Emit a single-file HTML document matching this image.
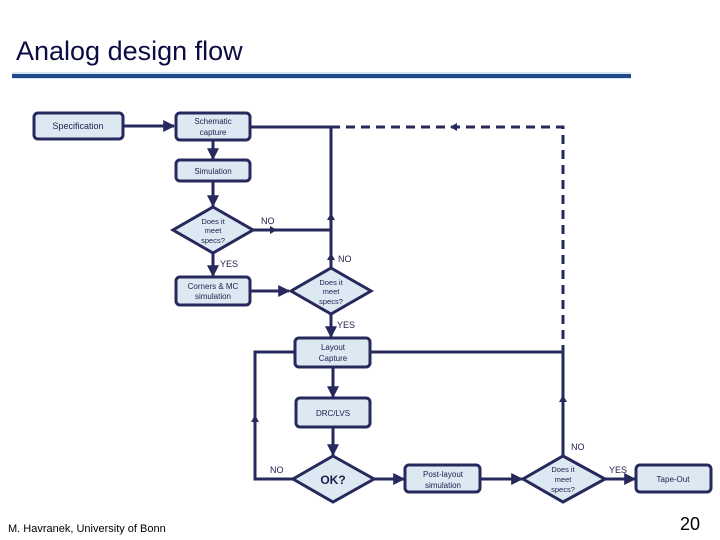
<!DOCTYPE html>
<html><head><meta charset="utf-8"><style>
body{margin:0;width:720px;height:540px;background:#fff;overflow:hidden}
svg{display:block}
</style></head><body>
<svg width="720" height="540" viewBox="0 0 720 540" font-family="Liberation Sans, sans-serif">
<defs>
<marker id="a" viewBox="0 0 10 10" refX="9" refY="5" markerWidth="4" markerHeight="4" orient="auto"><path d="M0,0L10,5L0,10z" fill="#27285c"/></marker>
</defs>
<text x="16" y="60" font-size="27" fill="#0b0b45">Analog design flow</text>
<rect x="12" y="72" width="619" height="7" fill="#d6e4f0"/>
<rect x="12" y="74" width="619" height="4" fill="#1f4a8a"/>
<g stroke="#27285c" stroke-width="3" fill="none">
<!-- solid lines -->
<line x1="123" y1="126" x2="174" y2="126" marker-end="url(#a)"/>
<line x1="213" y1="140" x2="213" y2="159" marker-end="url(#a)"/>
<line x1="213" y1="181" x2="213" y2="206" marker-end="url(#a)"/>
<line x1="213" y1="253" x2="213" y2="276" marker-end="url(#a)"/>
<line x1="250" y1="291" x2="289" y2="291" marker-end="url(#a)"/>
<line x1="253" y1="230" x2="331" y2="230"/>
<line x1="331" y1="268" x2="331" y2="127"/>
<line x1="250" y1="127" x2="331" y2="127"/>
<line x1="331" y1="314" x2="331" y2="337" marker-end="url(#a)"/>
<line x1="333" y1="367" x2="333" y2="397" marker-end="url(#a)"/>
<line x1="333" y1="427" x2="333" y2="455" marker-end="url(#a)"/>
<polyline points="293,479 255,479 255,352 295,352"/>
<line x1="370" y1="352" x2="563" y2="352"/>
<line x1="563" y1="456" x2="563" y2="352"/>
<line x1="374" y1="479" x2="404" y2="479" marker-end="url(#a)"/>
<line x1="480" y1="479" x2="522" y2="479" marker-end="url(#a)"/>
<line x1="605" y1="479" x2="635" y2="479" marker-end="url(#a)"/>
<!-- dashed -->
<polyline points="331,127 563,127 563,352" stroke-dasharray="9,6"/>
</g>
<g fill="#27285c">
<path d="M277,230l-7,-4v8z"/>
<path d="M331,213l-4,7h8z"/>
<path d="M331,253l-4,7h8z"/>
<path d="M450,127l7,-4v8z"/>
<path d="M563,395l-4,7h8z"/>
<path d="M255,415l-4,7h8z"/>
</g>
<g stroke="#27285c" stroke-width="3" fill="#dce9f2">
<rect x="34" y="113" width="89" height="26" rx="4"/>
<rect x="176" y="113" width="74" height="27" rx="4"/>
<rect x="176" y="160" width="74" height="21" rx="4"/>
<polygon points="213,207 253,230 213,253 173,230"/>
<rect x="176" y="277" width="74" height="28" rx="4"/>
<polygon points="331,268 371,291 331,314 291,291"/>
<rect x="295" y="338" width="75" height="29" rx="4"/>
<rect x="296" y="398" width="74" height="29" rx="4"/>
<polygon points="333,456 374,479 333,502 293,479"/>
<rect x="405" y="465" width="75" height="27" rx="4"/>
<polygon points="563,456 605,479 563,502 523,479"/>
<rect x="636" y="465" width="75" height="27" rx="4"/>
</g>
<g font-size="9" fill="#1e1e4e" text-anchor="middle">
<text x="78" y="129">Specification</text>
<text x="213" y="124" font-size="8">Schematic</text>
<text x="213" y="135" font-size="8">capture</text>
<text x="213" y="174" font-size="8">Simulation</text>
<text x="213" y="224" font-size="7.5">Does it</text>
<text x="213" y="233" font-size="7.5">meet</text>
<text x="213" y="243" font-size="7.5">specs?</text>
<text x="213" y="289" font-size="8">Corners &amp; MC</text>
<text x="213" y="299" font-size="8">simulation</text>
<text x="331" y="285" font-size="7.5">Does it</text>
<text x="331" y="294" font-size="7.5">meet</text>
<text x="331" y="304" font-size="7.5">specs?</text>
<text x="333" y="350" font-size="8">Layout</text>
<text x="333" y="361" font-size="8">Capture</text>
<text x="333" y="416" font-size="8">DRC/LVS</text>
<text x="333" y="484" font-size="12" font-weight="bold">OK?</text>
<text x="443" y="477" font-size="8">Post-layout</text>
<text x="443" y="488" font-size="8">simulation</text>
<text x="563" y="472" font-size="7.5">Does it</text>
<text x="563" y="482" font-size="7.5">meet</text>
<text x="563" y="492" font-size="7.5">specs?</text>
<text x="673" y="482" font-size="8">Tape-Out</text>
</g>
<g font-size="9" fill="#1e1e4e">
<text x="261" y="224">NO</text>
<text x="338" y="262">NO</text>
<text x="220" y="267">YES</text>
<text x="337" y="328">YES</text>
<text x="571" y="450">NO</text>
<text x="270" y="473">NO</text>
<text x="609" y="473">YES</text>
</g>
<text x="8" y="532" font-size="11" fill="#000">M. Havranek, University of Bonn</text>
<text x="680" y="530" font-size="18" fill="#000">20</text>
</svg>
</body></html>
